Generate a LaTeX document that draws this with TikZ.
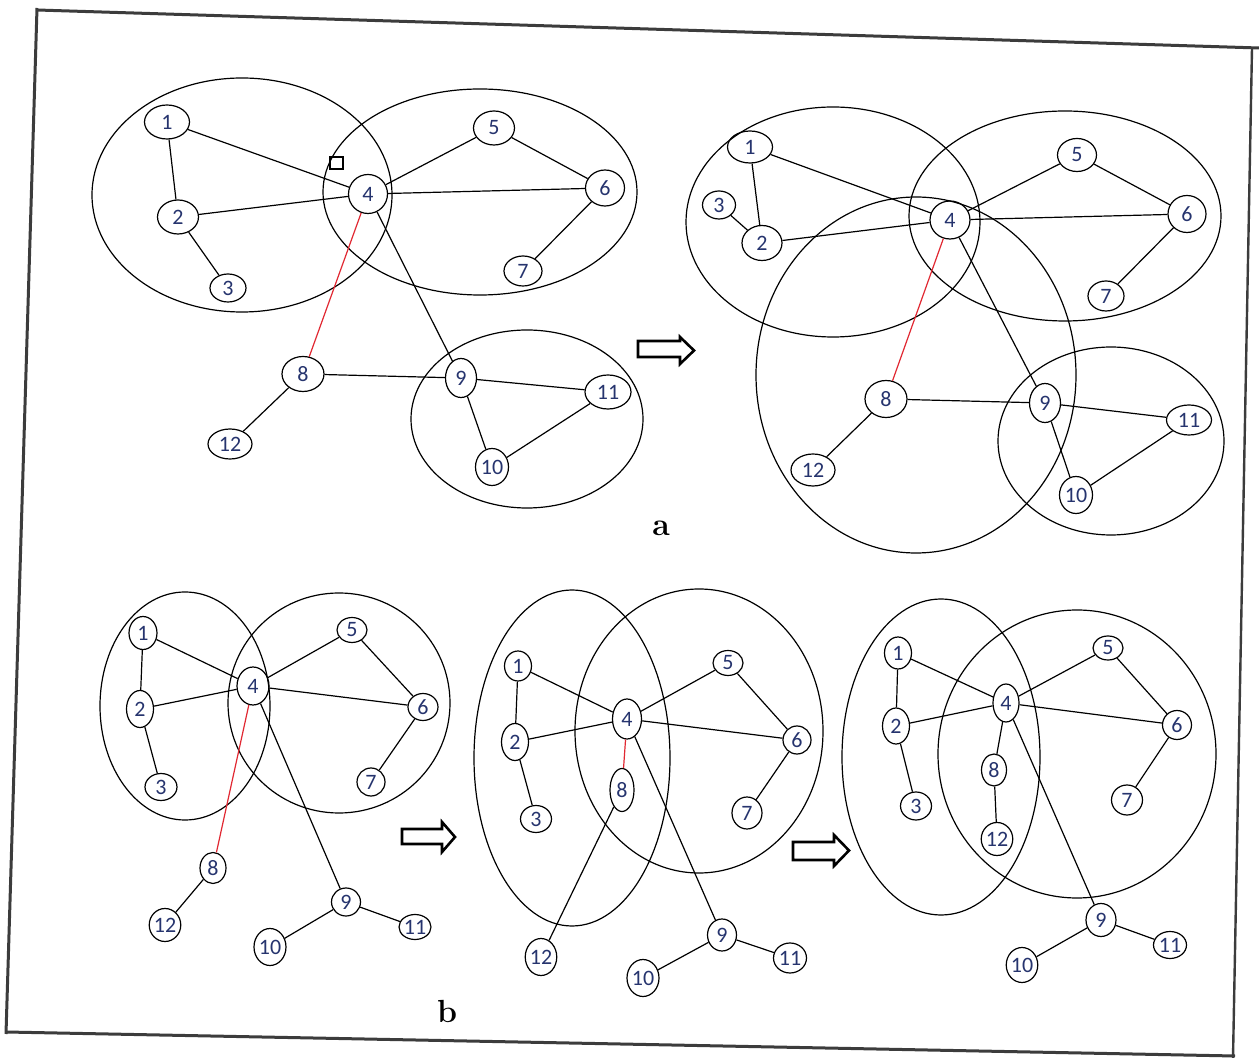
\documentclass[tikz,border=0pt]{standalone}
\usepackage{fontspec}
\usetikzlibrary{shapes.geometric}
\newfontfamily\numfont{Carlito}
\definecolor{numblue}{RGB}{38,52,110}
\definecolor{framegray}{RGB}{60,60,60}
\definecolor{linkred}{RGB}{225,40,50}
\tikzset{
  v/.style 2 args={draw, ellipse, inner sep=0pt, line width=0.6pt,
    minimum width={#1*0.5pt}, minimum height={#2*0.5pt},
    font=\numfont\fontsize{11pt}{12pt}\selectfont, text=numblue},
  ed/.style={line width=0.6pt},
  red edge/.style={line width=0.6pt, draw=linkred},
  grp/.style={line width=0.6pt},
  blockarrow/.style={line width=1.3pt, line join=miter},
  sublabel/.style={font=\bfseries\fontsize{16pt}{18pt}\selectfont}
}
\begin{document}
\begin{tikzpicture}[x=0.5pt,y=-0.5pt]
\useasboundingbox (0,0) rectangle (1259,1058);
\fill[white] (0,0) rectangle (1259,1058);

% page frame
\draw[framegray, line width=1.5pt] (37,8) -- (6,1034);
\draw[framegray, line width=1.5pt] (37,10) -- (1259,48);
\draw[framegray, line width=1.2pt] (1252,48) -- (1233,1058);
\draw[framegray, line width=1.5pt] (6,1032) -- (1235,1056);

% ---------- (a) left graph ----------
\draw[grp] (242,195) ellipse [x radius=150, y radius=117];
\draw[grp] (480,192) ellipse [x radius=157, y radius=103];
\draw[grp] (527,419) ellipse [x radius=116, y radius=89];
\draw[line width=0.6pt] (330,157) rectangle (343,169);
\node[v={45}{34}] (a1) at (167,122) {1};
\node[v={41}{34}] (a2) at (178,217) {2};
\node[v={36}{28}] (a3) at (228,288) {3};
\node[v={39}{39}] (a4) at (368,194) {4};
\node[v={41}{34}] (a5) at (494,128) {5};
\node[v={39}{36}] (a6) at (605,188) {6};
\node[v={38}{30}] (a7) at (523,271) {7};
\node[v={42}{35}] (a8) at (303,374) {8};
\node[v={31}{39}] (a9) at (461,378) {9};
\node[v={33}{37}] (a10) at (492,467) {10};
\node[v={46}{34}] (a11) at (608,392) {11};
\node[v={44}{30}] (a12) at (230,444) {12};
\draw[ed] (a1) -- (a2) (a1) -- (a4) (a2) -- (a4) (a2) -- (a3)
  (a4) -- (a5) (a4) -- (a6) (a5) -- (a6) (a6) -- (a7)
  (a4) -- (a9) (a8) -- (a9) (a8) -- (a12) (a9) -- (a11)
  (a9) -- (a10) (a10) -- (a11);
\draw[red edge] (a4) -- (a8);

\draw[blockarrow] (638,341) -- (680,341) -- (680,337) -- (694,350.5)
  -- (680,364) -- (680,357) -- (638,357) -- cycle;

% ---------- (a) right graph ----------
\draw[grp] (833,222) ellipse [x radius=147, y radius=115];
\draw[grp] (1065,216) ellipse [x radius=156, y radius=105];
\draw[grp] (916,375) ellipse [x radius=160, y radius=178];
\draw[grp] (1111,441) ellipse [x radius=113, y radius=94];
\node[v={45}{32}] (r1) at (750,147) {1};
\node[v={40}{35}] (r2) at (762,243) {2};
\node[v={33}{28}] (r3) at (719,205) {3};
\node[v={40}{38}] (r4) at (950,220) {4};
\node[v={39}{33}] (r5) at (1077,155) {5};
\node[v={38}{37}] (r6) at (1187,214) {6};
\node[v={36}{30}] (r7) at (1106,296) {7};
\node[v={42}{37}] (r8) at (886,399) {8};
\node[v={31}{39}] (r9) at (1045,403) {9};
\node[v={33}{37}] (r10) at (1076,495) {10};
\node[v={45}{30}] (r11) at (1189,420) {11};
\node[v={44}{32}] (r12) at (813,470) {12};
\draw[ed] (r1) -- (r2) (r1) -- (r4) (r3) -- (r2) (r2) -- (r4)
  (r4) -- (r5) (r4) -- (r6) (r5) -- (r6) (r6) -- (r7)
  (r4) -- (r9) (r8) -- (r9) (r8) -- (r12) (r9) -- (r11)
  (r9) -- (r10) (r10) -- (r11);
\draw[red edge] (r4) -- (r8);

\node[sublabel] (la) at (661,528) {a};

% ---------- (b) first graph ----------
\draw[grp] (185,706) ellipse [x radius=85, y radius=114];
\draw[grp] (339,703) ellipse [x radius=111, y radius=110];
\node[v={28}{33}] (p1) at (143,633) {1};
\node[v={27}{37}] (p2) at (140,709) {2};
\node[v={32}{27}] (p3) at (161,787) {3};
\node[v={32}{38}] (p4) at (253,686) {4};
\node[v={30}{25}] (p5) at (352,630) {5};
\node[v={30}{27}] (p6) at (423,707) {6};
\node[v={28}{28}] (p7) at (371,782) {7};
\node[v={26}{31}] (p8) at (213,868) {8};
\node[v={29}{28}] (p9) at (346,902) {9};
\node[v={32}{37}] (p10) at (270,947) {10};
\node[v={32}{25}] (p11) at (415,927) {11};
\node[v={25}{33}] (p12) at (165,925) {12};
\draw[ed] (p1) -- (p2) (p1) -- (p4) (p2) -- (p3) (p2) -- (p4)
  (p4) -- (p5) (p4) -- (p6) (p5) -- (p6) (p6) -- (p7)
  (p4) -- (p9) (p8) -- (p12) (p9) -- (p10) (p9) -- (p11);
\draw[red edge] (p4) -- (p8);

\draw[blockarrow] (402,829) -- (442,829) -- (442,822) -- (455,837)
  -- (442,852) -- (442,844) -- (402,844) -- cycle;

% ---------- (b) second graph ----------
\draw[grp] (572,758) ellipse [x radius=98, y radius=168];
\draw[grp] (699,731) ellipse [x radius=124, y radius=142];
\node[v={27}{30}] (q1) at (518,666) {1};
\node[v={27}{37}] (q2) at (515,742) {2};
\node[v={31}{27}] (q3) at (536,819) {3};
\node[v={29}{40}] (q4) at (627,719) {4};
\node[v={30}{25}] (q5) at (728,663) {5};
\node[v={28}{28}] (q6) at (797,740) {6};
\node[v={30}{32}] (q7) at (747,813) {7};
\node[v={24}{43}] (q8) at (622,790) {8};
\node[v={29}{32}] (q9) at (722,935) {9};
\node[v={32}{37}] (q10) at (643,978) {10};
\node[v={33}{30}] (q11) at (790,958) {11};
\node[v={24}{37}] (q12) at (541,957) {12};
\draw[ed] (q1) -- (q2) (q1) -- (q4) (q2) -- (q3) (q2) -- (q4)
  (q4) -- (q5) (q4) -- (q6) (q5) -- (q6) (q6) -- (q7)
  (q4) -- (q9) (q8) -- (q12) (q9) -- (q10) (q9) -- (q11);
\draw[red edge] (q4) -- (q8);

\draw[blockarrow] (793,842) -- (834,842) -- (834,835) -- (849,850.5)
  -- (834,866) -- (834,860) -- (793,860) -- cycle;

% ---------- (b) third graph ----------
\draw[grp] (941,757) ellipse [x radius=99, y radius=158];
\draw[grp] (1077,754) ellipse [x radius=139, y radius=144];
\node[v={27}{32}] (s1) at (898,653) {1};
\node[v={27}{36}] (s2) at (896,726) {2};
\node[v={31}{28}] (s3) at (916,806) {3};
\node[v={26}{38}] (s4) at (1006,703) {4};
\node[v={30}{24}] (s5) at (1108,648) {5};
\node[v={29}{29}] (s6) at (1177,725) {6};
\node[v={31}{30}] (s7) at (1127,800) {7};
\node[v={25}{32}] (s8) at (994,770) {8};
\node[v={30}{33}] (s9) at (1101,920) {9};
\node[v={31}{35}] (s10) at (1022,965) {10};
\node[v={33}{27}] (s11) at (1170,945) {11};
\node[v={21}{33}] (s12) at (997,839) {12};
\draw[ed] (s1) -- (s2) (s1) -- (s4) (s2) -- (s3) (s2) -- (s4)
  (s4) -- (s5) (s4) -- (s6) (s5) -- (s6) (s6) -- (s7)
  (s4) -- (s8) (s8) -- (s12) (s4) -- (s9) (s9) -- (s10) (s9) -- (s11);

\node[sublabel] (lb) at (447,1011) {b};
\end{tikzpicture}
\end{document}
